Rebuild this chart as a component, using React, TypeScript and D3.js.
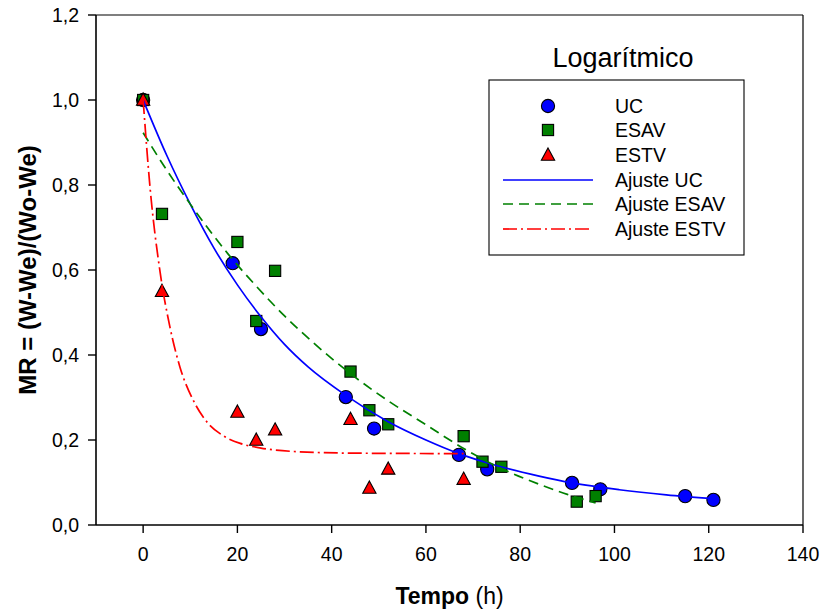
import React from "react";
import * as d3 from "d3";

// ---- Data ----
const UC_T = [0, 19, 25, 43, 49, 67, 73, 91, 97, 115, 121];
const UC_MR = [1.0, 0.616, 0.461, 0.301, 0.227, 0.165, 0.131, 0.099, 0.084, 0.068, 0.059];

const ESAV_T = [0, 4, 20, 24, 28, 44, 48, 52, 68, 72, 76, 92, 96];
const ESAV_MR = [1.0, 0.732, 0.666, 0.48, 0.598, 0.361, 0.27, 0.237, 0.209, 0.149, 0.137, 0.055, 0.068];

const ESTV_T = [0, 4, 20, 24, 28, 44, 48, 52, 68];
const ESTV_MR = [1.0, 0.55, 0.266, 0.2, 0.224, 0.249, 0.087, 0.132, 0.108];

// fitted curves
const FIT_UC_T = [0, 5, 10, 15, 20, 25, 30, 35, 43, 52, 60, 67, 74, 84, 91, 101, 111, 121];
const FIT_UC_MR = [1.0, 0.87, 0.755, 0.652, 0.565, 0.49, 0.425, 0.372, 0.305, 0.243, 0.2, 0.168, 0.143, 0.115, 0.099, 0.083, 0.071, 0.062];

const FIT_ESAV_T = [0, 5, 10, 18, 24, 30, 36, 44, 52, 60, 68, 76, 84, 90, 96];
const FIT_ESAV_MR = [0.923, 0.835, 0.755, 0.638, 0.562, 0.492, 0.43, 0.356, 0.292, 0.236, 0.18, 0.133, 0.096, 0.072, 0.052];

const FIT_ESTV_T = [0, 1.5, 3.6, 5.7, 7.8, 10.7, 13.8, 17, 20.6, 25, 32, 45, 68];
const FIT_ESTV_MR = [1.0, 0.79, 0.595, 0.465, 0.372, 0.292, 0.239, 0.21, 0.192, 0.181, 0.173, 0.169, 0.168];

const X_TICKS = [0, 20, 40, 60, 80, 100, 120, 140];
const Y_TICKS = [0, 0.2, 0.4, 0.6, 0.8, 1.0, 1.2];

const LEGEND_LABELS = ["UC", "ESAV", "ESTV", "Ajuste UC", "Ajuste ESAV", "Ajuste ESTV"];
const TITLE = "Logarítmico";

const FONT = "'Liberation Sans', Arial, Helvetica, sans-serif";
const BLUE = "#0000ff";
const GREEN = "#008000";
const RED = "#ff0000";

const W = 823;
const H = 614;
const L = 96, R = 803, T = 15, B = 525;

const x = d3.scaleLinear().domain([-10, 140]).range([L, R]);
const y = d3.scaleLinear().domain([0, 1.2]).range([B, T]);

const fmt = (v: number) => d3.format(".1f")(v).replace(".", ",");

function zip(a: number[], b: number[]): [number, number][] {
  return a.map((t, i) => [t, b[i]]);
}

const lineGen = d3
  .line<[number, number]>()
  .x((d) => x(d[0]))
  .y((d) => y(d[1]))
  .curve(d3.curveMonotoneX);

const Circle = ({ cx, cy }: { cx: number; cy: number }) => (
  <circle cx={cx} cy={cy} r={6.6} fill={BLUE} stroke="#000" strokeWidth={1.1} />
);
const Square = ({ cx, cy }: { cx: number; cy: number }) => (
  <rect x={cx - 5.6} y={cy - 5.6} width={11.2} height={11.2} fill={GREEN} stroke="#000" strokeWidth={1.1} />
);
const Tri = ({ cx, cy }: { cx: number; cy: number }) => {
  const s = 7;
  const p = `${cx},${cy - s} ${cx + s * 0.95},${cy + s * 0.75} ${cx - s * 0.95},${cy + s * 0.75}`;
  return <polygon points={p} fill={RED} stroke="#000" strokeWidth={1.1} strokeLinejoin="miter" />;
};

export default function App() {
  const legendRows = [106, 130, 155, 180, 204, 229];
  return (
    <div style={{ position: "fixed", left: 0, top: 0 }}>
      <svg width={W} height={H} style={{ display: "block", background: "#fff" }} fontFamily={FONT}>
        <rect x={0} y={0} width={W} height={H} fill="#fff" />
        {/* frame */}
        <line x1={L} x2={R} y1={T} y2={T} stroke="#000" strokeWidth={1.2} />
        <line x1={R} x2={R} y1={T} y2={B} stroke="#000" strokeWidth={1.2} />
        {/* axes */}
        <line x1={L} x2={L} y1={T} y2={B} stroke="#000" strokeWidth={1.6} />
        <line x1={L} x2={R} y1={B} y2={B} stroke="#000" strokeWidth={1.6} />
        {X_TICKS.map((t) => (
          <g key={"xt" + t}>
            <line x1={x(t)} x2={x(t)} y1={B} y2={B + 8} stroke="#000" strokeWidth={1.4} />
            <text x={x(t)} y={560.5} fontSize={19.5} textAnchor="middle" fill="#000">
              {t}
            </text>
          </g>
        ))}
        {Y_TICKS.map((v) => (
          <g key={"yt" + v}>
            <line x1={L - 8} x2={L} y1={y(v)} y2={y(v)} stroke="#000" strokeWidth={1.4} />
            <text x={79} y={y(v)} dy="0.36em" fontSize={19.5} textAnchor="end" fill="#000">
              {fmt(v)}
            </text>
          </g>
        ))}
        {/* axis titles */}
        <text x={(L + R) / 2} y={604} textAnchor="middle" fontSize={23} fill="#000">
          <tspan fontWeight="bold">Tempo</tspan>
          <tspan> (h)</tspan>
        </text>
        <text
          transform={`translate(36,${(T + B) / 2}) rotate(-90)`}
          textAnchor="middle"
          fontSize={24}
          fontWeight="bold"
          fill="#000"
        >
          MR = (W-We)/(Wo-We)
        </text>

        {/* markers */}
        {UC_T.map((t, i) => (
          <Circle key={"uc" + i} cx={x(t)} cy={y(UC_MR[i])} />
        ))}
        {ESAV_T.map((t, i) => (
          <Square key={"es" + i} cx={x(t)} cy={y(ESAV_MR[i])} />
        ))}
        {ESTV_T.map((t, i) => (
          <Tri key={"et" + i} cx={x(t)} cy={y(ESTV_MR[i])} />
        ))}

        {/* fitted curves */}
        <path d={lineGen(zip(FIT_UC_T, FIT_UC_MR)) || ""} fill="none" stroke={BLUE} strokeWidth={1.7} />
        <path
          d={lineGen(zip(FIT_ESAV_T, FIT_ESAV_MR)) || ""}
          fill="none"
          stroke={GREEN}
          strokeWidth={1.7}
          strokeDasharray="10,6"
        />
        <path
          d={lineGen(zip(FIT_ESTV_T, FIT_ESTV_MR)) || ""}
          fill="none"
          stroke={RED}
          strokeWidth={1.7}
          strokeDasharray="14,4,2,4"
        />

        {/* legend */}
        <text x={623} y={67} textAnchor="middle" fontSize={27} fill="#000">
          {TITLE}
        </text>
        <rect x={489} y={80} width={255} height={175} fill="#fff" stroke="#000" strokeWidth={1.1} />
        <Circle cx={548} cy={legendRows[0]} />
        <Square cx={548} cy={legendRows[1]} />
        <Tri cx={548} cy={legendRows[2]} />
        <line x1={503} x2={593} y1={legendRows[3]} y2={legendRows[3]} stroke={BLUE} strokeWidth={1.7} />
        <line x1={503} x2={593} y1={legendRows[4]} y2={legendRows[4]} stroke={GREEN} strokeWidth={1.7} strokeDasharray="10,6" />
        <line x1={503} x2={593} y1={legendRows[5]} y2={legendRows[5]} stroke={RED} strokeWidth={1.7} strokeDasharray="14,4,2,4" />
        {LEGEND_LABELS.map((lab, i) => (
          <text key={lab} x={615} y={legendRows[i]} dy="0.36em" fontSize={19.5} fill="#000">
            {lab}
          </text>
        ))}
      </svg>
    </div>
  );
}
